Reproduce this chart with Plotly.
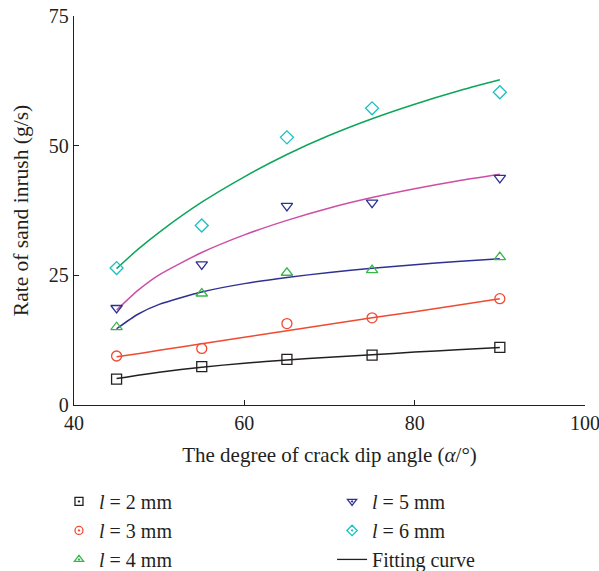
import plotly.graph_objects as go

# ---- data ----
angles = [45, 55, 65, 75, 90]
rate_2mm = [5.0, 7.4, 8.8, 9.6, 11.1]
rate_3mm = [9.45, 10.9, 15.7, 16.8, 20.5]
rate_4mm = [15.0, 21.5, 25.5, 26.0, 28.5]
rate_5mm = [18.7, 27.1, 38.4, 39.0, 43.8]
rate_6mm = [26.4, 34.6, 51.6, 57.2, 60.3]

fit_x = [45, 47.5, 50, 55, 60, 65, 70, 75, 80, 85, 90]
fit_2mm = [5.1, 5.75, 6.3, 7.3, 8.05, 8.7, 9.2, 9.7, 10.2, 10.65, 11.1]
fit_3mm = [9.3, 9.9, 10.55, 11.8, 13.05, 14.3, 15.55, 16.8, 18.0, 19.25, 20.5]
fit_4mm = [14.7, 17.5, 19.4, 21.8, 23.4, 24.6, 25.55, 26.35, 27.05, 27.65, 28.2]
fit_5mm = [18.3, 22.1, 25.1, 29.4, 32.8, 35.6, 38.0, 40.0, 41.7, 43.2, 44.5]
fit_6mm = [26.3, 30.0, 33.3, 39.1, 44.0, 48.3, 52.0, 55.2, 58.0, 60.5, 62.7]

labels = ["<i>l</i> = 2 mm", "<i>l</i> = 3 mm", "<i>l</i> = 4 mm",
          "<i>l</i> = 5 mm", "<i>l</i> = 6 mm", "Fitting curve"]

FONT = "Liberation Serif"
black = "#231f20"
red = "#ef4a32"
green_m = "#39b54a"
navy = "#2e3192"
cyan = "#1cbfc4"
green_c = "#0da55a"
magenta = "#cc4fa6"

fig = go.Figure()

# fitting curves
for fy, col in [(fit_2mm, black), (fit_3mm, red), (fit_4mm, navy),
                (fit_5mm, magenta), (fit_6mm, green_c)]:
    fig.add_trace(go.Scatter(x=fit_x, y=fy, mode="lines",
                             line=dict(color=col, width=1.5, shape="spline",
                                       smoothing=0.6),
                             showlegend=False, hoverinfo="skip"))

series = [
    (rate_2mm, labels[0], "square", black, "legend"),
    (rate_3mm, labels[1], "circle", red, "legend"),
    (rate_4mm, labels[2], "triangle-up", green_m, "legend"),
    (rate_5mm, labels[3], "triangle-down", navy, "legend2"),
    (rate_6mm, labels[4], "diamond", cyan, "legend2"),
]
for ys, name, sym, col, lg in series:
    fig.add_trace(go.Scatter(x=angles, y=ys, mode="markers", name=name,
                             marker=dict(symbol=sym + "-open", size=10, color=col,
                                         line=dict(width=1.3, color=col)),
                             showlegend=False))
    # legend sample (smaller symbol with centre dot, like the reference)
    fig.add_trace(go.Scatter(x=[None], y=[None], mode="markers", name=name,
                             marker=dict(symbol=sym + "-open-dot", size=8, color=col,
                                         line=dict(width=1.3, color=col)),
                             legend=lg))

fig.add_trace(go.Scatter(x=[None], y=[None], mode="lines", name=labels[5],
                         line=dict(color=black, width=1.3), legend="legend2"))

legend_common = dict(font=dict(family=FONT, size=20, color=black),
                     bgcolor="rgba(0,0,0,0)", yanchor="top", xanchor="left",
                     xref="paper", yref="container",
                     orientation="v", itemsizing="trace", tracegroupgap=0)

fig.update_layout(
    width=599, height=571,
    margin=dict(l=74, r=14, t=16, b=166),
    paper_bgcolor="white", plot_bgcolor="white",
    font=dict(family=FONT, size=20, color=black),
    xaxis=dict(range=[40, 100], tickvals=[40, 60, 80, 100],
               showline=True, linecolor=black, linewidth=1.3,
               ticks="inside", ticklen=5, tickcolor=black, tickwidth=1.3,
               showgrid=False, zeroline=False, automargin=False,
               ticklabeloverflow="allow",
               tickfont=dict(family=FONT, size=20, color=black),
               title=dict(text="The degree of crack dip angle (<i>α</i>/°)",
                          font=dict(family=FONT, size=21, color=black),
                          standoff=14)),
    yaxis=dict(range=[0, 75], tickvals=[0, 25, 50, 75],
               showline=True, linecolor=black, linewidth=1.3,
               ticks="inside", ticklen=5, tickcolor=black, tickwidth=1.3,
               showgrid=False, zeroline=False, automargin=False,
               ticklabeloverflow="allow",
               tickfont=dict(family=FONT, size=20, color=black),
               title=dict(text="Rate of sand inrush (g/s)",
                          font=dict(family=FONT, size=21.5, color=black),
                          standoff=14)),
    legend=dict(x=-0.0294, y=0.156, **legend_common),
    legend2=dict(x=0.505, y=0.156, **legend_common),
)

fig.write_html("out.html")
